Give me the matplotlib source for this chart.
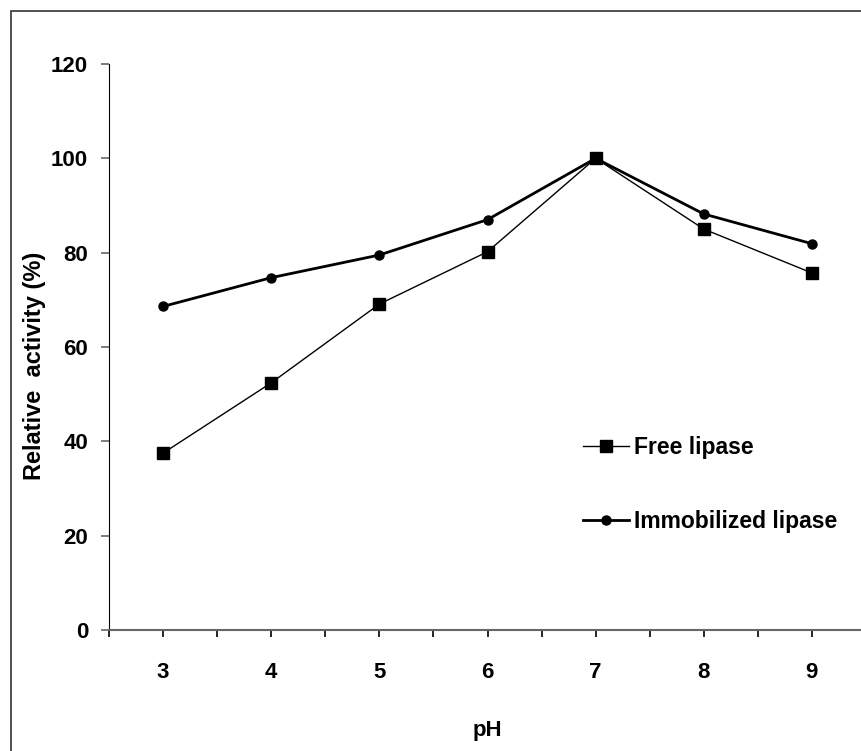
import numpy as np
import matplotlib.pyplot as plt
from matplotlib.patches import Rectangle

# data
ph = [3, 4, 5, 6, 7, 8, 9]
free_lipase = [37.5, 52.4, 69.1, 80.2, 100.0, 85.0, 75.7]
immobilized_lipase = [68.6, 74.7, 79.5, 87.0, 100.0, 88.2, 81.9]
y_ticks = [0, 20, 40, 60, 80, 100, 120]

plt.rcParams['font.family'] = ['Liberation Sans', 'DejaVu Sans']
plt.rcParams['font.weight'] = 'bold'

W, H = 861, 751
fig = plt.figure(figsize=(W / 100, H / 100), dpi=100)

# outer frame (cut at right / bottom edge like the original)
fig.patches.append(Rectangle((11 / W, -0.1), 1.2, (H - 11) / H + 0.1,
                             transform=fig.transFigure, fill=False,
                             edgecolor='#333333', lw=1.2))

ax = fig.add_axes([109 / W, 121 / H, (866 - 109) / W, (630 - 64) / H])

ax.plot(ph, free_lipase, color='black', lw=1.0, marker='s', markersize=8,
        label='Free lipase')
ax.plot(ph, immobilized_lipase, color='black', lw=2.0, marker='o', markersize=6.5,
        label='Immobilized lipase')

ax.set_xlim(2.5, 9.5)
ax.set_ylim(0, 120)
ax.set_xticks(ph)
ax.set_xticks(np.arange(2.5, 9.6, 1.0), minor=True)
ax.set_yticks(y_ticks)

for side in ['top', 'right']:
    ax.spines[side].set_visible(False)
ax.spines['left'].set_color('black')
ax.spines['bottom'].set_color('#666666')
ax.spines['bottom'].set_linewidth(1.5)

ax.tick_params(axis='y', direction='out', length=6, width=1.2, color='#666666',
               labelsize=16, pad=9)
ax.tick_params(axis='x', which='both', direction='out', length=5, width=1.2,
               color='black', labelsize=16, pad=18)

ax.set_xlabel('pH', fontsize=16, fontweight='bold', labelpad=27)
fig.text(35 / W, 1 - 366 / H, 'Relative  activity (%)', rotation=90,
         ha='center', va='center', fontsize=17, fontweight='bold')

leg = ax.legend(loc='upper left', bbox_to_anchor=(572 / W, 1 - 425 / H),
                bbox_transform=fig.transFigure, frameon=False, fontsize=16.5,
                handlelength=2.0, handletextpad=0.2, labelspacing=2.2,
                borderpad=0)
for t in leg.get_texts():
    t.set_fontweight('bold')

fig.savefig('out.png', dpi=100)
